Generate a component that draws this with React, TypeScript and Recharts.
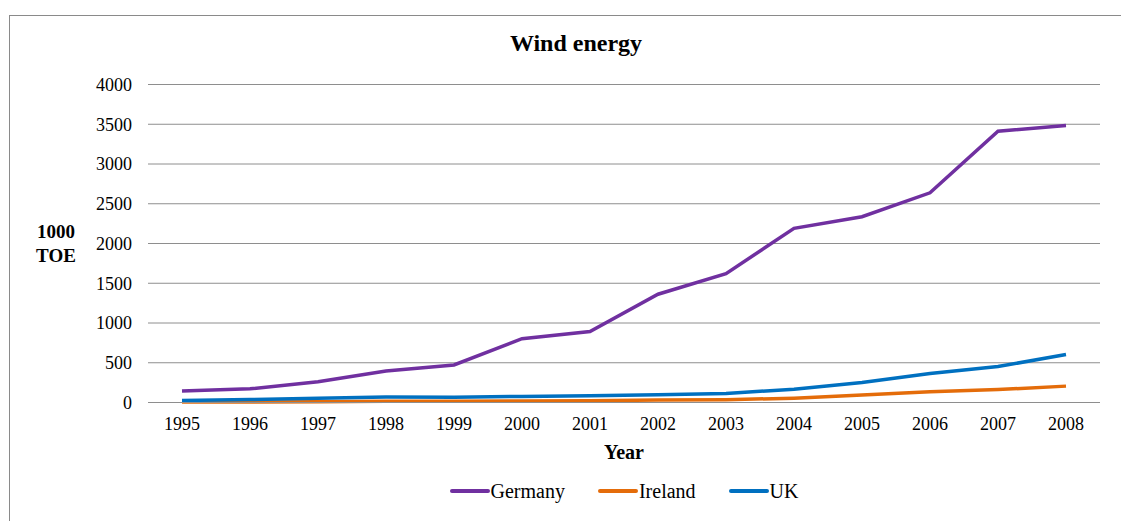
import {
  LineChart,
  Line,
  XAxis,
  YAxis,
  CartesianGrid,
  Legend,
  Customized,
} from "recharts";

const years = [
  "1995", "1996", "1997", "1998", "1999", "2000", "2001",
  "2002", "2003", "2004", "2005", "2006", "2007", "2008",
];
const germany = [145, 172, 262, 396, 472, 803, 893, 1362, 1621, 2190, 2337, 2638, 3413, 3485];
const ireland = [5, 6, 9, 15, 16, 20, 22, 30, 34, 55, 93, 134, 162, 206];
const uk = [26, 38, 52, 68, 67, 76, 84, 99, 113, 168, 252, 364, 452, 603];
const yTicks = [0, 500, 1000, 1500, 2000, 2500, 3000, 3500, 4000];

const data = years.map((year, i) => ({
  year,
  Germany: germany[i],
  Ireland: ireland[i],
  UK: uk[i],
}));

const FONT = "'Liberation Serif', 'Times New Roman', serif";
const GRID = "#8e8e8e";

// the frame runs past the page edge, so keep the page from scrolling
document.documentElement.style.overflow = "hidden";
document.body.style.overflow = "hidden";

const Titles = () => (
  <g fontFamily={FONT} fontWeight="bold" fill="#000">
    <text x={566} y={35} textAnchor="middle" fontSize={24}>
      Wind energy
    </text>
    <text x={614} y={443} textAnchor="middle" fontSize={20}>
      Year
    </text>
    <text x={46} y={222} textAnchor="middle" fontSize={19}>
      1000
    </text>
    <text x={46} y={245.5} textAnchor="middle" fontSize={19}>
      TOE
    </text>
  </g>
);

const renderLegend = (props: any) => {
  const items = props.payload || [];
  return (
    <div
      style={{
        display: "flex",
        justifyContent: "center",
        fontFamily: FONT,
        fontSize: 20,
        lineHeight: "22px",
        color: "#000",
      }}
    >
      {items.map((entry: any, i: number) => (
        <div
          key={entry.value}
          style={{
            display: "flex",
            alignItems: "center",
            marginRight: i < items.length - 1 ? 33 : 0,
          }}
        >
          <svg width={40} height={8} style={{ marginRight: 1 }}>
            <line
              x1={2}
              y1={4}
              x2={38}
              y2={4}
              stroke={entry.color}
              strokeWidth={4}
              strokeLinecap="round"
            />
          </svg>
          <span>{entry.value}</span>
        </div>
      ))}
    </div>
  );
};

export default function App() {
  return (
    <div style={{ paddingTop: 7, paddingLeft: 1 }}>
      <div
        style={{
          width: 1180,
          height: 560,
          boxSizing: "border-box",
          borderTop: "1px solid #8a8a8a",
          borderLeft: "1px solid #8a8a8a",
        }}
      >
        <LineChart
          width={1119}
          height={505}
          data={data}
          margin={{ top: 68.5, right: 29, left: 78, bottom: 88.5 }}
        >
          <CartesianGrid vertical={false} stroke={GRID} strokeWidth={1} />
          <XAxis
            dataKey="year"
            height={30}
            padding={{ left: 34, right: 34 }}
            axisLine={{ stroke: GRID }}
            tickLine={false}
            tickSize={0}
            tickMargin={15}
            interval={0}
            tick={{ fill: "#000", fontSize: 18, fontFamily: FONT }}
          />
          <YAxis
            width={60}
            domain={[0, 4000]}
            ticks={yTicks}
            axisLine={false}
            tickLine={false}
            tickSize={0}
            tickMargin={16}
            tick={{ fill: "#000", fontSize: 18, fontFamily: FONT }}
          />
          <Legend
            layout="horizontal"
            verticalAlign="middle"
            align="center"
            wrapperStyle={{ top: 464, left: 138, width: 952 }}
            content={renderLegend}
          />
          <Line
            type="linear"
            dataKey="Germany"
            stroke="#7030A0"
            strokeWidth={3.5}
            dot={false}
            isAnimationActive={false}
          />
          <Line
            type="linear"
            dataKey="Ireland"
            stroke="#E46C0A"
            strokeWidth={3.5}
            dot={false}
            isAnimationActive={false}
          />
          <Line
            type="linear"
            dataKey="UK"
            stroke="#0070C0"
            strokeWidth={3.5}
            dot={false}
            isAnimationActive={false}
          />
          <Customized component={Titles} />
        </LineChart>
      </div>
    </div>
  );
}
